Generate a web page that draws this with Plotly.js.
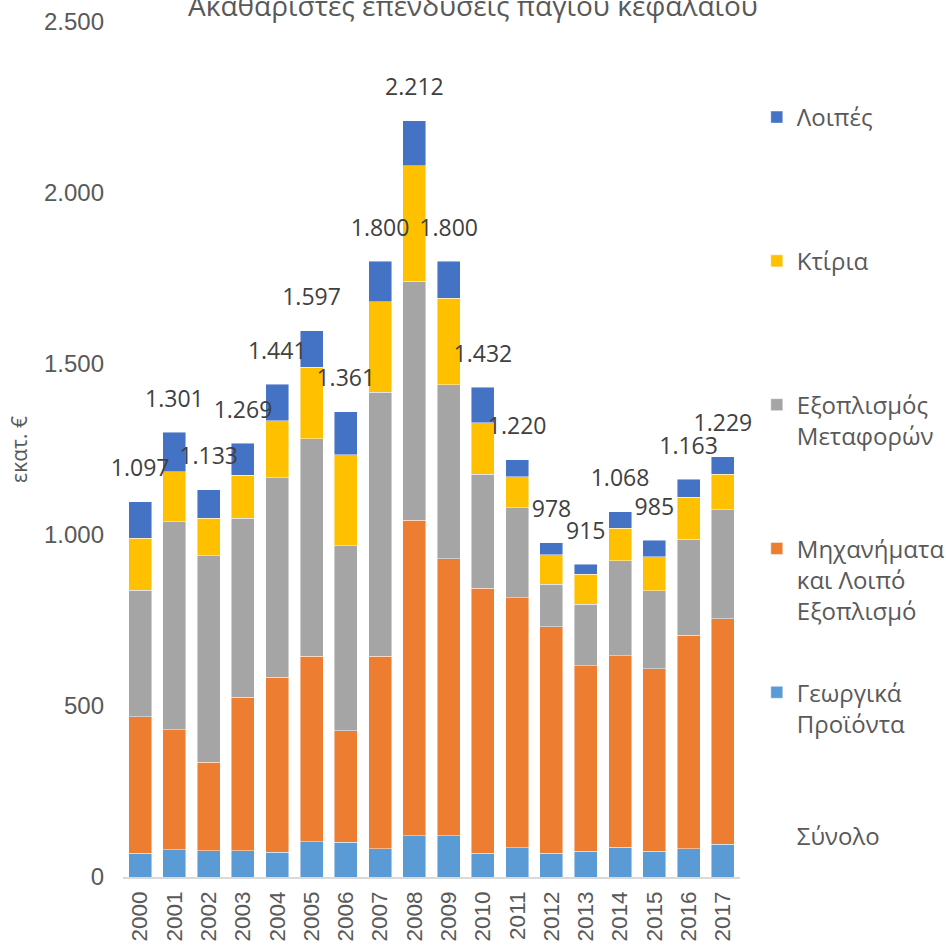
<!DOCTYPE html>
<html>
<head>
<meta charset="utf-8">
<script src="https://cdn.plot.ly/plotly-3.0.1.min.js"></script>
<style>html,body{margin:0;padding:0;background:#fff;}#chart{width:946px;height:945px;}</style>
</head>
<body>
<div id="chart"></div>
<script>
// ---- data ----
const years = ['2000','2001','2002','2003','2004','2005','2006','2007','2008','2009','2010','2011','2012','2013','2014','2015','2016','2017'];
const agricultural = [69, 79, 77, 77, 72, 103, 102, 83, 120, 120, 70, 85, 69, 75, 87, 75, 83, 96];
const machinery    = [400, 351, 258, 448, 512, 543, 326, 562, 923, 810, 775, 731, 663, 543, 560, 534, 624, 659];
const transport    = [370, 609, 604, 524, 584, 635, 540, 773, 699, 510, 333, 264, 124, 179, 277, 228, 281, 319];
const buildings    = [151, 146, 110, 126, 166, 209, 267, 264, 337, 252, 150, 90, 86, 88, 96, 99, 123, 103];
const other        = [107, 116, 84, 94, 107, 107, 126, 118, 133, 108, 104, 50, 36, 30, 48, 49, 52, 52];
const totals       = [1097, 1301, 1133, 1269, 1441, 1597, 1361, 1800, 2212, 1800, 1432, 1220, 978, 915, 1068, 985, 1163, 1229];

const names = {
  other: 'Λοιπές',
  buildings: 'Κτίρια',
  transport: 'Εξοπλισμός<br>Μεταφορών',
  machinery: 'Μηχανήματα<br>και Λοιπό<br>Εξοπλισμό',
  agricultural: 'Γεωργικά<br>Προϊόντα',
  total: 'Σύνολο'
};
const colors = {
  agricultural: '#5B9BD5', machinery: '#ED7D31', transport: '#A5A5A5',
  buildings: '#FFC000', other: '#4472C4'
};

// pad legend names so every entry occupies the same height
function pad(n) {
  const lines = n.split('<br>').length;
  let s = n;
  for (let i = lines; i < 4; i++) s += '<br> ';
  return s;
}

function barTrace(y, key, rank) {
  return {
    type: 'bar', x: years, y: y, name: pad(names[key]),
    marker: {color: colors[key], line: {color: 'rgba(255,255,255,0.6)', width: 0.75}},
    legendgroup: key, legendrank: rank, hoverinfo: 'y+name'
  };
}

const data = [
  barTrace(agricultural, 'agricultural', 5),
  barTrace(machinery, 'machinery', 4),
  barTrace(transport, 'transport', 3),
  barTrace(buildings, 'buildings', 2),
  barTrace(other, 'other', 1),
  {
    type: 'scatter', mode: 'markers+text', x: years, y: totals,
    texttemplate: '%{y:,}', textposition: 'top center', cliponaxis: false,
    textfont: {family: 'Open Sans', size: 23, color: '#404040'},
    marker: {size: 30, color: 'rgba(0,0,0,0)'},
    showlegend: false, hoverinfo: 'skip'
  },
  {
    type: 'scatter', mode: 'lines', x: years, y: totals, name: names.total,
    line: {color: 'rgba(0,0,0,0)', width: 0}, legendgroup: 'total', legendrank: 6,
    hoverinfo: 'skip'
  }
];

const layout = {
  width: 946, height: 945,
  margin: {l: 123, r: 206, t: 22, b: 68, pad: 0},
  paper_bgcolor: '#ffffff', plot_bgcolor: '#ffffff',
  separators: ',.',
  barmode: 'stack', bargap: 0.33,
  font: {family: 'Open Sans', color: '#595959'},
  title: {
    text: 'Ακαθάριστες επενδύσεις παγίου κεφαλαίου',
    font: {family: 'Open Sans', size: 28, color: '#595959'},
    x: 0.5, xanchor: 'center', xref: 'container',
    y: 0.9931, yanchor: 'middle', yref: 'container'
  },
  xaxis: {
    type: 'category', range: [-0.5, years.length - 0.5], autorange: false,
    tickangle: -90, showgrid: false, zeroline: false,
    showline: true, linecolor: '#D9D9D9', linewidth: 1.5, ticks: '',
    tickfont: {family: 'Liberation Sans', size: 22.5, color: '#595959'},
    ticklabelstandoff: 4, automargin: false
  },
  yaxis: {
    range: [0, 2500], dtick: 500, tickformat: ',', showgrid: false, zeroline: false,
    showline: false, ticks: '', automargin: false,
    tickfont: {family: 'Liberation Sans', size: 24, color: '#595959'},
    ticklabelstandoff: 18,
    title: {text: 'εκατ. €', font: {family: 'Open Sans', size: 21, color: '#595959'}, standoff: 10}
  },
  legend: {
    xref: 'container', yref: 'container',
    x: 0.80, xanchor: 'left', y: 0.8995, yanchor: 'top',
    valign: 'top', tracegroupgap: 16, traceorder: 'grouped', maxheight: 900,
    font: {family: 'Open Sans', size: 24, color: '#595959'},
    bgcolor: 'rgba(0,0,0,0)'
  },
  showlegend: true
};

Plotly.newPlot('chart', data, layout, {displayModeBar: false, staticPlot: true});
</script>
</body>
</html>
